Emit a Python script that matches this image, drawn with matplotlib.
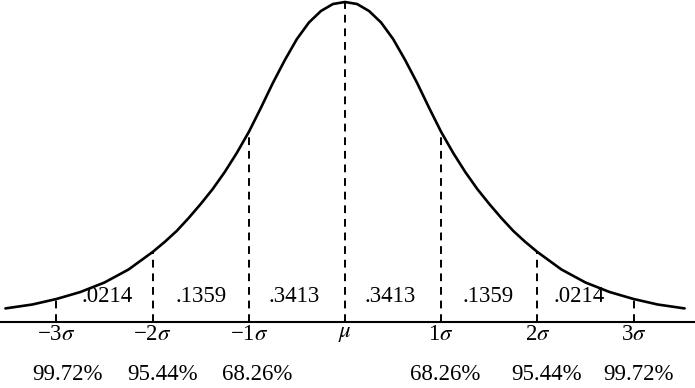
import numpy as np
import matplotlib
matplotlib.use("Agg")
import matplotlib.pyplot as plt

plt.rcParams['font.family'] = ['Liberation Serif', 'DejaVu Serif']
plt.rcParams['mathtext.fontset'] = 'stix'

# curve heights (left half, in sigma units), mirrored for the right
curve_z_left = [-3.53, -3.5, -3.25, -3.0, -2.75, -2.5, -2.25, -2.0, -1.875, -1.75, -1.625,
                -1.5, -1.375, -1.25, -1.125, -1.0, -0.875, -0.75, -0.625, -0.5, -0.375,
                -0.25, -0.125]
curve_h_left = [13.6, 14, 17.5, 23, 30, 39.5, 52.5, 70, 80, 91, 104,
                118, 133, 150, 169, 190, 214, 239, 262, 283, 299.5,
                311, 318]
curve_peak = 320

sigma_pos = [-3, -2, -1, 0, 1, 2, 3]
sigma_labels = ['\u22123$\\sigma$', '\u22122$\\sigma$', '\u22121$\\sigma$', '$\\mu$',
                '1$\\sigma$', '2$\\sigma$', '3$\\sigma$']

area_pos = [-2.47, -1.5, -0.53, 0.47, 1.49, 2.43]
area_labels = ['.0214', '.1359', '.3413', '.3413', '.1359', '.0214']

pct_pos = [-2.88, -1.9, -0.91, 1.04, 2.1, 3.05]
pct_labels = ['99.72%', '95.44%', '68.26%', '68.26%', '95.44%', '99.72%']

z = np.array(curve_z_left + [0] + [-v for v in curve_z_left[::-1]])
h = np.array(curve_h_left + [curve_peak] + curve_h_left[::-1])

fig = plt.figure(figsize=(6.95, 3.88), dpi=100)
ax = fig.add_axes([0, 0, 1, 1])
ax.set_xlim(-345 / 96.2, 350 / 96.2)
ax.set_ylim(-66, 322)
ax.axis('off')

ax.plot(z, h, color='black', lw=1.9, solid_joinstyle='round', solid_capstyle='round')
ax.axhline(0, color='black', lw=1.5)

for s in sigma_pos:
    top = np.interp(s, z, h)
    ax.plot([s, s], [0, top], color='black', lw=1.4, dashes=(4, 3))

for s, lab in zip(sigma_pos, sigma_labels):
    ax.text(s, -12, lab, ha='center', va='center', fontsize=16.5)

for s, lab in zip(area_pos, area_labels):
    ax.text(s, 25, lab, ha='center', va='center', fontsize=16.5)

for s, lab in zip(pct_pos, pct_labels):
    ax.text(s, -53, lab, ha='center', va='center', fontsize=16.5)

fig.savefig('out.png', dpi=100)
